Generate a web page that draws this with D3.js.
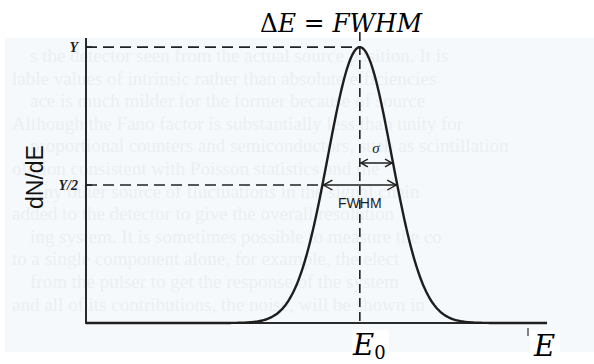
<!DOCTYPE html>
<html>
<head>
<meta charset="utf-8">
<script src="https://cdn.jsdelivr.net/npm/d3@7"></script>
<style>
  html, body { margin: 0; padding: 0; background: #ffffff; }
  svg { display: block; }
</style>
</head>
<body>
<svg id="chart" width="594" height="364"></svg>
<script>
// Energy axis (arbitrary units) and the Gaussian line shape
const energyDomain = [0, 100];
const peakCentre = 59.4;        // E0
const peakSigma = 6.9;          // σ
const peakHeight = 1;           // Y
const countDomain = [0, 1.033];
const fwhm = 2 * Math.sqrt(2 * Math.LN2) * peakSigma;

// Sample energies for the curve
const sampleEnergies = d3.range(energyDomain[0], energyDomain[1] + 0.01, 0.25);

// Axis marks and labels
const yTickLabels = [
  { value: peakHeight, label: "Y" },
  { value: peakHeight / 2, label: "Y/2" }
];
const xLabels = ["E", "0"];
const yAxisTitle = "dN/dE";
const titleParts = ["Δ", "E", " = ", "FWHM"];

// Faint type showing through from the reverse of the printed page
const backgroundLines = [
  "s the detector seen from the actual source position. It is",
  "lable values of intrinsic rather than absolute efficiencies",
  "ace is much milder for the former because of source",
  "Although the Fano factor is substantially less than unity for",
  "proportional counters and semiconductors, such as scintillation",
  "olution consistent with Poisson statistics and the",
  "Any other source of fluctuations in the signal chain",
  "added to the detector to give the overall resolution",
  "ing system. It is sometimes possible to measure the co",
  "to a single component alone, for example, the elect",
  "from the pulser to get the response of the system",
  "and all of its contributions, the noise, will be shown in"
];

const svg = d3.select("#chart");
const W = 594;

const x = d3.scaleLinear().domain(energyDomain).range([86, 547]);
const y = d3.scaleLinear().domain(countDomain).range([323, 38]);

const gauss = e => peakHeight * Math.exp(-((e - peakCentre) ** 2) / (2 * peakSigma ** 2));

// Paper background of the printed figure
svg.append("rect").attr("x", 5).attr("y", 38).attr("width", W - 5).attr("height", 314)
  .attr("fill", "#f6f9fb");

const bg = svg.append("g").attr("fill", "#eaeff3")
  .attr("font-family", "Liberation Serif, serif").attr("font-size", 19);
backgroundLines.forEach((t, i) => {
  bg.append("text").attr("x", i % 2 ? 12 : 30).attr("y", 62 + i * 22.6).text(t);
});

// Axes
svg.append("path")
  .attr("d", d3.line()([[x(0), y(countDomain[1])], [x(0), y(0)], [x(100), y(0)]]))
  .attr("fill", "none").attr("stroke", "#2a2a2a").attr("stroke-width", 2);

// Guide lines
const dash = svg.append("g").attr("stroke", "#222").attr("stroke-width", 1.6).attr("fill", "none");
dash.append("line")
  .attr("x1", x(0)).attr("x2", x(peakCentre))
  .attr("y1", y(peakHeight)).attr("y2", y(peakHeight))
  .attr("stroke-dasharray", "11,6");
dash.append("line")
  .attr("x1", x(0)).attr("x2", x(peakCentre - fwhm / 2))
  .attr("y1", y(peakHeight / 2)).attr("y2", y(peakHeight / 2))
  .attr("stroke-dasharray", "11,6");
dash.append("line")
  .attr("x1", x(peakCentre)).attr("x2", x(peakCentre))
  .attr("y1", 32).attr("y2", y(0))
  .attr("stroke-dasharray", "9,5");

// Small ticks at the axis
svg.append("g").selectAll("line").data(yTickLabels).join("line")
  .attr("x1", x(0)).attr("x2", x(0) + 6)
  .attr("y1", d => y(d.value)).attr("y2", d => y(d.value))
  .attr("stroke", "#222").attr("stroke-width", 1.6);

// Gaussian peak
svg.append("path")
  .datum(sampleEnergies)
  .attr("d", d3.line().x(e => x(e)).y(e => y(gauss(e))).curve(d3.curveBasis))
  .attr("fill", "none").attr("stroke", "#1e1e1e").attr("stroke-width", 2.4);

// Double-headed arrows
function arrow(xa, xb, yy, head) {
  const g = svg.append("g").attr("stroke", "#1e1e1e").attr("stroke-width", 1.4).attr("fill", "none");
  g.append("line").attr("x1", xa).attr("x2", xb).attr("y1", yy).attr("y2", yy);
  g.append("path").attr("d", `M${xa + head},${yy - head * 0.55}L${xa},${yy}L${xa + head},${yy + head * 0.55}`);
  g.append("path").attr("d", `M${xb - head},${yy - head * 0.55}L${xb},${yy}L${xb - head},${yy + head * 0.55}`);
}
arrow(x(peakCentre - fwhm / 2) + 1, x(peakCentre + fwhm / 2) - 1, y(peakHeight / 2), 9);
const sigmaLevel = 0.58;
const sigmaEdge = peakCentre + peakSigma * Math.sqrt(-2 * Math.log(sigmaLevel));
arrow(x(peakCentre) + 1, x(sigmaEdge) - 1, y(sigmaLevel), 7);

svg.append("text").attr("x", x(peakCentre)).attr("y", 208)
  .attr("text-anchor", "middle").attr("font-family", "Liberation Sans, Arial, sans-serif")
  .attr("font-size", 14).attr("fill", "#1e1e1e").text("FWHM");
svg.append("text").attr("x", x(peakCentre) + 16).attr("y", 153)
  .attr("text-anchor", "middle").attr("font-family", "Liberation Serif, serif")
  .attr("font-style", "italic").attr("font-size", 15).attr("fill", "#1e1e1e").text("σ");

// Y tick labels
svg.append("g").selectAll("text").data(yTickLabels).join("text")
  .attr("x", x(0) - 8).attr("y", d => y(d.value) + 5)
  .attr("text-anchor", "end").attr("font-family", "Liberation Serif, serif")
  .attr("font-style", "italic").attr("font-weight", "bold").attr("font-size", 14).attr("fill", "#1e1e1e")
  .text(d => d.label);

// Y axis title
svg.append("text")
  .attr("transform", `translate(43,177) rotate(-90)`)
  .attr("text-anchor", "middle").attr("font-family", "Liberation Sans, Arial, sans-serif")
  .attr("font-size", 23).attr("fill", "#111")
  .text(yAxisTitle);

// White label patches below the axis
svg.append("rect").attr("x", 352).attr("y", 330).attr("width", 37).attr("height", 34).attr("fill", "#fff");
svg.append("rect").attr("x", 530).attr("y", 330).attr("width", 30).attr("height", 34).attr("fill", "#fff");
svg.append("line").attr("x1", 528).attr("x2", 528).attr("y1", 328).attr("y2", 336)
  .attr("stroke", "#333").attr("stroke-width", 1.2);

// E0 and E labels
const e0 = svg.append("text").attr("x", 353).attr("y", 355)
  .attr("font-family", "DejaVu Serif, serif").attr("font-style", "italic").attr("fill", "#000");
e0.append("tspan").attr("font-size", 29).text(xLabels[0]);
e0.append("tspan").attr("font-size", 18).attr("font-style", "normal").attr("dy", 4).text(xLabels[1]);
svg.append("text").attr("x", 534).attr("y", 356)
  .attr("font-family", "DejaVu Serif, serif").attr("font-style", "italic")
  .attr("font-size", 29).attr("fill", "#000").text(xLabels[0]);

// Title
const title = svg.append("text").attr("x", 260).attr("y", 32)
  .attr("font-family", "DejaVu Serif, serif").attr("font-size", 26).attr("fill", "#000")
  .attr("textLength", 162).attr("lengthAdjust", "spacingAndGlyphs");
titleParts.forEach((t, i) => {
  title.append("tspan").attr("font-style", i === 1 || i === 3 ? "italic" : "normal").text(t);
});
</script>
</body>
</html>
